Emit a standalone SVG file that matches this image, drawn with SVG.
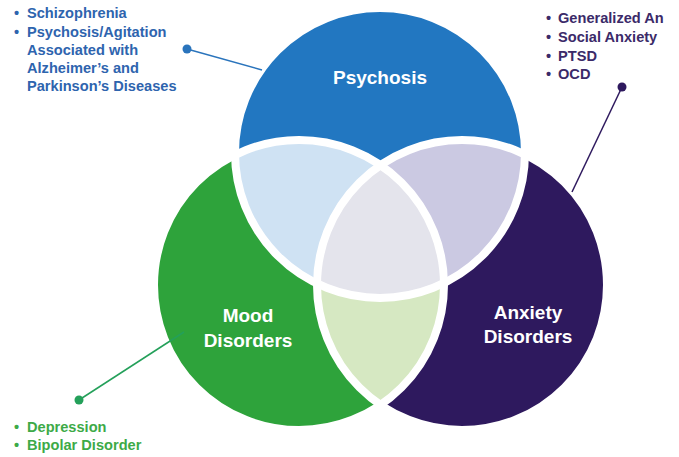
<svg xmlns="http://www.w3.org/2000/svg" width="679" height="457" viewBox="0 0 679 457">
<style>
.lbl{font-family:"Liberation Sans",Arial,sans-serif;font-weight:bold;fill:#fff;font-size:19px;text-anchor:middle}
.lst{font-family:"Liberation Sans",Arial,sans-serif;font-weight:bold;font-size:14.6px}
.blue{fill:#2E64AE}.purple{fill:#3B2A69}.green{fill:#3DAA47}
.gap{fill:none;stroke:#fff;stroke-width:8}
</style>
<defs>
<clipPath id="cP"><circle cx="380" cy="153" r="145"/></clipPath>
<clipPath id="cM"><circle cx="300" cy="285" r="145"/></clipPath>
<clipPath id="cA"><circle cx="462" cy="285" r="145"/></clipPath>
</defs>
<rect width="679" height="457" fill="#fff"/>
<g id="psychosis">
<circle cx="380" cy="153" r="145" fill="#2277C1"/>
</g>
<g id="mood">
<circle cx="299" cy="285" r="145" fill="#2EA33B"/>
</g>
<g id="anxiety">
<circle cx="462" cy="285" r="145" fill="#2E195E"/>
</g>
<g id="overlaps">
<g clip-path="url(#cP)"><circle cx="299" cy="285" r="145" fill="#CFE2F3"/></g>
<g clip-path="url(#cP)"><circle cx="462" cy="285" r="145" fill="#CBC9E2"/></g>
<g clip-path="url(#cM)"><circle cx="462" cy="285" r="145" fill="#D6E8C2"/></g>
<g clip-path="url(#cP)"><g clip-path="url(#cM)"><circle cx="462" cy="285" r="145" fill="#E4E4EC"/></g></g>
</g>
<g id="gaps">
<circle class="gap" cx="380" cy="153" r="145"/>
<circle class="gap" cx="299" cy="285" r="145"/>
<circle class="gap" cx="462" cy="285" r="145"/>
</g>
<g id="labels">
<text class="lbl" x="380" y="84">Psychosis</text>
<text class="lbl" x="248" y="322">Mood</text>
<text class="lbl" x="248" y="347">Disorders</text>
<text class="lbl" x="528" y="319">Anxiety</text>
<text class="lbl" x="528" y="343">Disorders</text>
</g>
<g id="connectors">
<line x1="187" y1="49" x2="262" y2="70" stroke="#2A74BC" stroke-width="1.5"/>
<circle cx="187" cy="49" r="4.5" fill="#2A74BC"/>
<line x1="622" y1="87" x2="572" y2="192" stroke="#2E195E" stroke-width="1.5"/>
<circle cx="622" cy="87" r="4.5" fill="#2E195E"/>
<line x1="79" y1="400" x2="184" y2="332" stroke="#24A05A" stroke-width="1.5"/>
<circle cx="79" cy="400" r="4.5" fill="#24A05A"/>
</g>
<g id="psychosis-list" class="lst blue">
<text x="14" y="18">•</text><text x="27" y="18">Schizophrenia</text>
<text x="14" y="37">•</text><text x="27" y="37">Psychosis/Agitation</text>
<text x="27" y="55">Associated with</text>
<text x="27" y="73">Alzheimer’s and</text>
<text x="27" y="91">Parkinson’s Diseases</text>
</g>
<g id="anxiety-list" class="lst purple">
<text x="546" y="23">•</text><text x="558" y="23">Generalized An</text>
<text x="546" y="42">•</text><text x="558" y="42">Social Anxiety</text>
<text x="546" y="61">•</text><text x="558" y="61">PTSD</text>
<text x="546" y="79">•</text><text x="558" y="79">OCD</text>
</g>
<g id="mood-list" class="lst green">
<text x="14" y="432">•</text><text x="27" y="432">Depression</text>
<text x="14" y="450">•</text><text x="27" y="450">Bipolar Disorder</text>
</g>
</svg>
